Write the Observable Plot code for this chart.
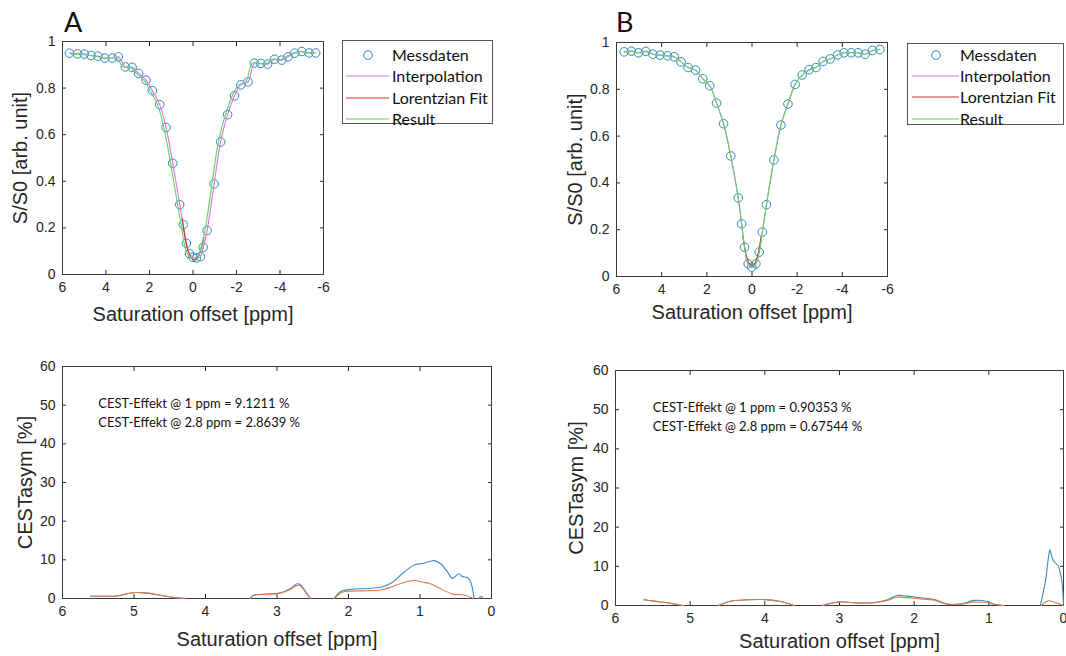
<!DOCTYPE html>
<html>
<head>
<meta charset="utf-8">
<script src="https://cdn.jsdelivr.net/npm/d3@7"></script>
<script src="https://cdn.jsdelivr.net/npm/@observablehq/plot@0.6"></script>
<style>
  html, body { margin: 0; padding: 0; background: #fff; }
  body { width: 1066px; height: 656px; overflow: hidden; position: relative; font-family: "Liberation Sans", Arial, sans-serif; }
  .panel { position: absolute; }
  .panel svg { overflow: visible; }
  .panel [aria-label^="x-axis"], .panel [aria-label^="y-axis"] { font-family: "Liberation Sans", Arial, sans-serif !important; font-size: 14px !important; fill: #262626; }
  .panel [aria-label="x-axis label"], .panel [aria-label="y-axis label"] { font-size: 20px !important; }
  .legend { position: absolute; border: 1px solid #555; background: #fff; font-family: Lato, "Open Sans", sans-serif; font-size: 16px; color: #111; box-sizing: border-box; }
  .legend .row { position: absolute; left: 0; right: 0; height: 20px; }
  .legend .row span { position: absolute; top: 0; line-height: 20px; }
  .legend svg { position: absolute; top: 0; left: 0; }
  .letter { position: absolute; font-family: Lato, "Open Sans", sans-serif; font-size: 27px; color: #111; line-height: 1; }
</style>
</head>
<body>
<script>
// ---------- DATA ----------
const topXTicks = [6, 4, 2, 0, -2, -4, -6];
const topYTicks = [0, 0.2, 0.4, 0.6, 0.8, 1];
const botXTicks = [6, 5, 4, 3, 2, 1, 0];
const botYTicks = [0, 10, 20, 30, 40, 50, 60];
const seriesNames = ["Messdaten", "Interpolation", "Lorentzian Fit", "Result"];
const panelLetters = ["A", "B"];
const xLabel = "Saturation offset [ppm]";
const yLabelTop = "S/S0 [arb. unit]";
const yLabelBot = "CESTasym [%]";

// Panel A: measured Z-spectrum
const measA_x = [5.68, 5.31, 5.0, 4.69, 4.37, 4.06, 3.71, 3.43, 3.11, 2.8, 2.5, 2.16, 1.87, 1.53, 1.24, 0.93, 0.61, 0.45, 0.3, 0.16, 0.0, -0.16, -0.34, -0.47, -0.65, -0.97, -1.27, -1.59, -1.91, -2.2, -2.53, -2.82, -3.12, -3.43, -3.75, -4.08, -4.37, -4.68, -5.0, -5.34, -5.64];
const measA_y = [0.95, 0.947, 0.946, 0.94, 0.937, 0.929, 0.929, 0.934, 0.891, 0.889, 0.863, 0.834, 0.789, 0.729, 0.631, 0.477, 0.3, 0.214, 0.134, 0.089, 0.074, 0.071, 0.077, 0.117, 0.189, 0.389, 0.569, 0.686, 0.767, 0.814, 0.827, 0.907, 0.906, 0.903, 0.924, 0.92, 0.934, 0.95, 0.957, 0.951, 0.951];
// Panel A: Lorentzian fit (visible near the centre)
const lorA_x = [0.5, 0.35, 0.2, 0.05, -0.1, -0.25, -0.4, -0.5];
const lorA_y = [0.24, 0.15, 0.095, 0.068, 0.064, 0.08, 0.12, 0.16];
// Panel A: B0-corrected result (shifted curve)
const resA_x = [5.6, 5.41, 5.1, 4.79, 4.47, 4.16, 3.81, 3.53, 3.21, 2.9, 2.6, 2.26, 1.97, 1.63, 1.34, 1.03, 0.71, 0.55, 0.4, 0.26, 0.1, -0.06, -0.24, -0.37, -0.55, -0.87, -1.17, -1.49, -1.81, -2.1, -2.43, -2.72, -3.02, -3.33, -3.65, -3.98, -4.27, -4.58, -4.9, -5.24, -5.54];
const resA_y = [0.945, 0.945, 0.944, 0.94, 0.937, 0.929, 0.929, 0.93, 0.891, 0.889, 0.863, 0.834, 0.789, 0.729, 0.631, 0.477, 0.3, 0.214, 0.134, 0.089, 0.074, 0.071, 0.077, 0.117, 0.189, 0.389, 0.569, 0.686, 0.767, 0.814, 0.827, 0.907, 0.906, 0.903, 0.924, 0.92, 0.934, 0.95, 0.957, 0.951, 0.951];

// Panel B: measured Z-spectrum
const measB_x = [5.66, 5.34, 5.03, 4.7, 4.39, 4.07, 3.74, 3.45, 3.14, 2.83, 2.5, 2.18, 1.87, 1.57, 1.26, 0.94, 0.61, 0.46, 0.33, 0.17, 0.01, -0.17, -0.32, -0.46, -0.64, -0.97, -1.28, -1.59, -1.91, -2.22, -2.53, -2.83, -3.15, -3.46, -3.79, -4.08, -4.39, -4.7, -5.01, -5.34, -5.66];
const measB_y = [0.96, 0.963, 0.956, 0.962, 0.95, 0.946, 0.943, 0.939, 0.917, 0.893, 0.882, 0.845, 0.815, 0.741, 0.653, 0.515, 0.336, 0.225, 0.125, 0.054, 0.04, 0.054, 0.104, 0.19, 0.307, 0.498, 0.647, 0.737, 0.821, 0.861, 0.884, 0.893, 0.919, 0.93, 0.947, 0.956, 0.956, 0.956, 0.95, 0.966, 0.97];
const lorB_x = [0.4, 0.25, 0.1, 0.0, -0.1, -0.25, -0.4];
const lorB_y = [0.17, 0.09, 0.052, 0.044, 0.052, 0.09, 0.17];

// Panel C: CESTasym (A)
const cestA_bx = [5.61, 5.4, 5.23, 5.1, 4.98, 4.85, 4.63, 4.44, 4.28, NaN,
  3.38, 3.32, 3.14, 2.95, 2.81, 2.72, 2.67, 2.6, 2.53, NaN,
  2.2, 2.11, 2.0, 1.74, 1.55, 1.4, 1.25, 1.1, 1.06, 0.95, 0.8, 0.71, 0.62, 0.545, 0.457, 0.41, 0.335, 0.29, 0.245, NaN,
  0.18, 0.145, 0.11];
const cestA_by = [0.6, 0.6, 0.65, 1.2, 1.55, 1.45, 0.86, 0.26, 0, NaN,
  0, 0.9, 1.15, 1.5, 2.6, 3.8, 3.5, 1.8, 0, NaN,
  0, 1.8, 2.3, 2.6, 2.9, 4.0, 6.4, 8.5, 8.8, 9.1, 9.8, 9.0, 7.0, 5.2, 6.4, 5.7, 5.35, 4.2, 0.2, NaN,
  0, 0.5, 0];
const cestA_ox = [5.61, 5.4, 5.23, 5.1, 4.98, 4.85, 4.63, 4.44, 4.28, NaN,
  3.38, 3.32, 3.14, 2.95, 2.81, 2.72, 2.67, 2.6, 2.53, NaN,
  2.2, 2.1, 2.0, 1.74, 1.55, 1.41, 1.25, 1.09, 0.95, 0.855, 0.71, 0.55, 0.41, 0.3, 0.25];
const cestA_oy = [0.6, 0.6, 0.65, 1.2, 1.55, 1.45, 0.86, 0.26, 0, NaN,
  0, 0.85, 1.05, 1.4, 2.4, 3.4, 3.2, 1.6, 0, NaN,
  0, 1.5, 1.9, 2.0, 2.2, 2.9, 4.0, 4.65, 4.2, 3.8, 2.5, 1.2, 0.95, 0.4, 0];
const annotA = ["CEST-Effekt @ 1 ppm = 9.1211 %", "CEST-Effekt @ 2.8 ppm = 2.8639 %"];

// Panel D: CESTasym (B)
const cestB_bx = [5.62, 5.45, 5.31, 5.2, 5.09, NaN,
  4.62, 4.46, 4.24, 3.99, 3.79, 3.61, NaN,
  3.23, 3.01, 2.81, 2.54, 2.36, 2.23, 2.1, 1.92, 1.74, 1.56, 1.38, 1.2, 1.03, 0.94, 0.8, NaN,
  0.31, 0.24, 0.2, 0.18, 0.15, 0.12, 0.075, 0.03, 0.0];
const cestB_by = [1.45, 1.05, 0.7, 0.35, 0, NaN,
  0, 1.1, 1.45, 1.5, 1.0, 0, NaN,
  0, 0.94, 0.7, 0.7, 1.45, 2.55, 2.4, 1.96, 1.6, 0.4, 0.4, 1.3, 1.1, 0.4, 0, NaN,
  0, 6.4, 12.5, 14.2, 12.0, 11.1, 10.2, 7.2, 0.5];
const cestB_ox = [5.62, 5.45, 5.31, 5.2, 5.09, NaN,
  4.62, 4.46, 4.24, 3.99, 3.79, 3.61, NaN,
  3.23, 3.01, 2.81, 2.54, 2.36, 2.23, 2.1, 1.92, 1.74, 1.56, 1.38, 1.2, 1.03, 0.94, 0.8, NaN,
  0.3, 0.2, 0.13, 0.0];
const cestB_oy = [1.45, 1.05, 0.7, 0.35, 0, NaN,
  0, 1.1, 1.45, 1.5, 1.0, 0, NaN,
  0, 0.9, 0.7, 0.7, 1.3, 2.1, 2.0, 1.7, 1.4, 0.35, 0.35, 0.85, 0.75, 0.3, 0, NaN,
  0, 1.2, 0.9, 0];
const annotB = ["CEST-Effekt @ 1 ppm = 0.90353 %", "CEST-Effekt @ 2.8 ppm = 0.67544 %"];
const annotX = [5.5, 5.5];
const annotY = [50.4, 45.5];

// ---------- STYLE ----------
const C_MEAS = "#2b8cc4", C_INT = "#e070e0", C_LOR = "#c0392b", C_RES = "#5fd65f";
const C_BLUE = "#3a8dbf", C_ORANGE = "#e07a45";
const AX = "#262626";

function frameAxes(xt, yt, xlo, ylo, ylab) {
  return [
    Plot.axisX({ticks: xt, anchor: "bottom", tickSize: 0, tickPadding: 8, tickFormat: d => String(d), label: xLabel, labelAnchor: "center", labelOffset: xlo, labelArrow: "none"}),
    Plot.axisX({ticks: xt, anchor: "bottom", tickSize: -4, tickFormat: () => "", label: null}),
    Plot.axisX({ticks: xt, anchor: "top", tickSize: -4, tickFormat: () => "", label: null}),
    Plot.axisY({ticks: yt, anchor: "left", tickSize: 0, tickPadding: 7, tickFormat: d => String(d), label: ylab, labelAnchor: "center", labelOffset: ylo, labelArrow: "none"}),
    Plot.axisY({ticks: yt, anchor: "left", tickSize: -4, tickFormat: () => "", label: null}),
    Plot.axisY({ticks: yt, anchor: "right", tickSize: -4, tickFormat: () => "", label: null}),
    Plot.frame({stroke: "#3a3a3a"})
  ];
}

function place(svg, left, top, cls) {
  const d = document.createElement("div");
  d.className = "panel " + (cls || "");
  d.style.left = left + "px";
  d.style.top = top + "px";
  d.appendChild(svg);
  document.body.appendChild(d);
}

const baseStyle = {fontFamily: "Liberation Sans, Arial, sans-serif", fontSize: "14px", color: AX, background: "transparent", overflow: "visible"};

// Top panels
function topPanel(o) {
  return Plot.plot({
    width: o.w, height: o.h, marginLeft: o.ml, marginRight: o.mr, marginTop: o.mt, marginBottom: o.mb,
    style: baseStyle,
    x: {domain: [6, -6]},
    y: {domain: [0, 1]},
    marks: [
      ...frameAxes(topXTicks, topYTicks, o.xlo, o.ylo, yLabelTop),
      Plot.dot(o.mx, {x: o.mx, y: o.my, r: 4.3, stroke: C_MEAS, strokeWidth: 1}),
      Plot.line(o.mx, {x: o.mx, y: o.my, stroke: C_INT, strokeWidth: 1.1, curve: "catmull-rom"}),
      Plot.line(o.lx, {x: o.lx, y: o.ly, stroke: C_LOR, strokeWidth: 1.1, curve: "catmull-rom"}),
      Plot.line(o.rx, {x: o.rx, y: o.ry, stroke: C_RES, strokeWidth: 1.1, curve: "catmull-rom"})
    ]
  });
}

place(topPanel({w: 340, h: 330, ml: 62, mr: 17, mt: 41, mb: 56, xlo: 46.5, ylo: 50,
  mx: measA_x, my: measA_y, lx: lorA_x, ly: lorA_y, rx: resA_x, ry: resA_y}), 0, 0);
place(topPanel({w: 340, h: 330, ml: 56, mr: 13, mt: 42, mb: 54, xlo: 42.5, ylo: 49,
  mx: measB_x, my: measB_y, lx: lorB_x, ly: lorB_y, rx: measB_x, ry: measB_y}), 560, 0);

// Bottom panels
function botPanel(o) {
  return Plot.plot({
    width: o.w, height: o.h, marginLeft: o.ml, marginRight: o.mr, marginTop: o.mt, marginBottom: o.mb,
    style: baseStyle,
    x: {domain: [6, 0]},
    y: {domain: [0, 60]},
    marks: [
      ...frameAxes(botXTicks, botYTicks, o.xlo, o.ylo, yLabelBot),
      Plot.line(o.bx, {x: o.bx, y: o.by, stroke: C_BLUE, strokeWidth: 1.1, curve: "catmull-rom"}),
      Plot.line(o.ox, {x: o.ox, y: o.oy, stroke: C_ORANGE, strokeWidth: 1.1, curve: "catmull-rom"}),
      Plot.text(o.ann, {x: annotX, y: annotY, text: o.ann, textAnchor: "start", fontFamily: "Lato, 'Open Sans', sans-serif", fontSize: 13, fill: "#111"})
    ]
  });
}

place(botPanel({w: 500, h: 316, ml: 62, mr: 9, mt: 26, mb: 58, xlo: 47.5, ylo: 45,
  bx: cestA_bx, by: cestA_by, ox: cestA_ox, oy: cestA_oy, ann: annotA}), 0, 340, "bottom");
place(botPanel({w: 506, h: 316, ml: 55, mr: 3, mt: 30, mb: 51, xlo: 42.5, ylo: 47,
  bx: cestB_bx, by: cestB_by, ox: cestB_ox, oy: cestB_oy, ann: annotB}), 560, 340, "bottom");

// Panel letters
[[panelLetters[0], 64, 8], [panelLetters[1], 616, 8]].forEach(([t, l, tp]) => {
  const d = document.createElement("div");
  d.className = "letter"; d.textContent = t;
  d.style.left = l + "px"; d.style.top = tp + "px";
  document.body.appendChild(d);
});

// Legends
const legendColors = [C_MEAS, C_INT, C_LOR, C_RES];
function legend(o) {
  const box = d3.select("body").append("div").attr("class", "legend")
    .style("left", o.left + "px").style("top", o.top + "px")
    .style("width", o.w + "px").style("height", o.h + "px");
  seriesNames.forEach((name, i) => {
    const row = box.append("div").attr("class", "row").style("top", (o.rows[i] - 10) + "px");
    const s = row.append("svg").attr("width", o.textLeft).attr("height", 20);
    if (i === 0) {
      s.append("circle").attr("cx", o.mk).attr("cy", 10).attr("r", 4.3).attr("fill", "none").attr("stroke", legendColors[i]).attr("stroke-width", 1);
    } else {
      s.append("line").attr("x1", o.l1).attr("x2", o.l2).attr("y1", 10).attr("y2", 10).attr("stroke", legendColors[i]).attr("stroke-width", 1.2);
    }
    row.append("span").style("left", o.textLeft + "px").text(name);
  });
}
legend({left: 342, top: 40, w: 151, h: 84, rows: [14, 35, 57, 78], l1: 3, l2: 46, mk: 25, textLeft: 49});
legend({left: 907, top: 43, w: 157, h: 82, rows: [11, 32, 53, 75], l1: 4, l2: 51, mk: 28, textLeft: 52});
</script>
</body>
</html>
